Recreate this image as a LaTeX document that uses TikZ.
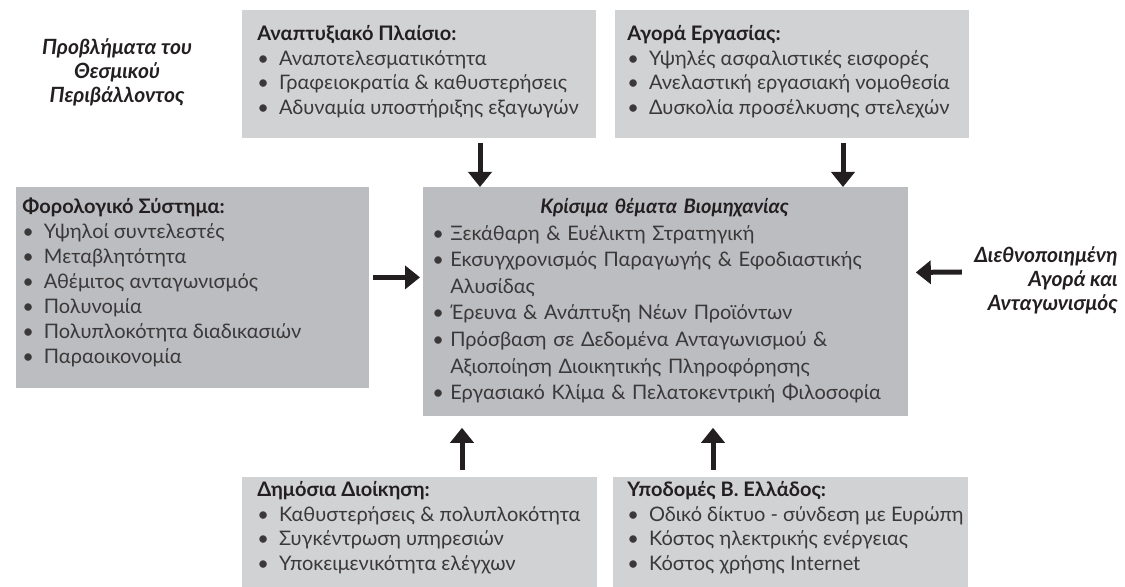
\documentclass[tikz,border=0pt]{standalone}
\usepackage{fontspec}
\setmainfont{Lato}
\usetikzlibrary{arrows.meta,calc}

\definecolor{boxlight}{HTML}{D1D2D4}
\definecolor{boxdark}{HTML}{BCBDC0}
\definecolor{ink}{HTML}{231F20}
\definecolor{bodyink}{HTML}{3A3839}

\newcommand{\blt}{\textbullet\hspace{5pt}}
\newcommand{\cblt}{\noindent\hangindent=9pt\hangafter=1\makebox[9pt][l]{\textbullet}}

\tikzset{
  factor/.style={fill=boxlight, anchor=north west, inner sep=0},
  core/.style={fill=boxdark, anchor=north west, inner sep=0},
  listtext/.style={anchor=north west, inner sep=0, align=left, text=bodyink,
    font=\fontsize{10}{12.3}\selectfont},
  sidetext/.style={inner sep=0, text=ink,
    font=\fontsize{10.5}{12}\selectfont\bfseries\itshape},
  bigarrow/.style={line width=2.5pt, draw=ink, -{Triangle[width=11.5pt,length=7.5pt]}},
}

\begin{document}
\begin{tikzpicture}[x=0.5pt, y=-0.5pt]
  \useasboundingbox (0,0) rectangle (1125,587);

  % boxes
  \node[factor, minimum width=177pt, minimum height=64pt] (dev) at (242,10) {};
  \node[factor, minimum width=177pt, minimum height=64pt] (lab) at (615,10) {};
  \node[core, minimum width=176.5pt, minimum height=100.5pt] (tax) at (16,187) {};
  \node[core, minimum width=242.5pt, minimum height=114.5pt] (crit) at (423,187) {};
  \node[factor, minimum width=177.5pt, minimum height=55pt] (pub) at (242,477) {};
  \node[factor, minimum width=177.5pt, minimum height=55pt] (infra) at (613,477) {};

  % box texts
  \node[listtext] (devtext) at ($(dev.north west)+(15,15)$) {%
    {\color{ink}\bfseries Αναπτυξιακό Πλαίσιο:}\\
    \blt Αναποτελεσματικότητα\\
    \blt Γραφειοκρατία \& καθυστερήσεις\\
    \blt Αδυναμία υποστήριξης εξαγωγών};
  \node[listtext] (labtext) at ($(lab.north west)+(12,15)$) {%
    {\color{ink}\bfseries Αγορά Εργασίας:}\\
    \blt Υψηλές ασφαλιστικές εισφορές\\
    \blt Ανελαστική εργασιακή νομοθεσία\\
    \blt Δυσκολία προσέλκυσης στελεχών};
  \node[listtext, font=\fontsize{10}{12.5}\selectfont] (taxtext) at ($(tax.north west)+(6,11)$) {%
    {\color{ink}\bfseries Φορολογικό Σύστημα:}\\
    \blt Υψηλοί συντελεστές\\
    \blt Μεταβλητότητα\\
    \blt Αθέμιτος ανταγωνισμός\\
    \blt Πολυνομία\\
    \blt Πολυπλοκότητα διαδικασιών\\
    \blt Παραοικονομία};
  \node[listtext, font=\fontsize{10}{13.3}\selectfont, text width=232pt] (crittext)
    at ($(crit.north west)+(9,11)$) {%
    {\centering\color{ink}\bfseries\itshape Κρίσιμα θέματα Βιομηχανίας\par}
    \cblt Ξεκάθαρη \& Ευέλικτη Στρατηγική\par
    \cblt Εκσυγχρονισμός Παραγωγής \& Εφοδιαστικής\newline Αλυσίδας\par
    \cblt Έρευνα \& Ανάπτυξη Νέων Προϊόντων\par
    \cblt Πρόσβαση σε Δεδομένα Ανταγωνισμού \&\newline Αξιοποίηση Διοικητικής Πληροφόρησης\par
    \cblt Εργασιακό Κλίμα \& Πελατοκεντρική Φιλοσοφία};
  \node[listtext] (pubtext) at ($(pub.north west)+(15,4)$) {%
    {\color{ink}\bfseries Δημόσια Διοίκηση:}\\
    \blt Καθυστερήσεις \& πολυπλοκότητα\\
    \blt Συγκέντρωση υπηρεσιών\\
    \blt Υποκειμενικότητα ελέγχων};
  \node[listtext] (infratext) at ($(infra.north west)+(14,4)$) {%
    {\color{ink}\bfseries Υποδομές Β. Ελλάδος:}\\
    \blt Οδικό δίκτυο - σύνδεση με Ευρώπη\\
    \blt Κόστος ηλεκτρικής ενέργειας\\
    \blt Κόστος χρήσης Internet};

  % side labels
  \node[sidetext, align=center] (inst) at (117,72)
    {Προβλήματα του\\Θεσμικού\\Περιβάλλοντος};
  \node[sidetext, align=right, anchor=east] (intl) at (1118,280)
    {Διεθνοποιημένη\\Αγορά και\\Ανταγωνισμός};

  % arrows
  \draw[bigarrow] ($(dev.south west)+(238,4)$) -- ($(crit.north west)+(57,0)$);
  \draw[bigarrow] ($(lab.south west)+(228,4)$) -- ($(crit.north west)+(420,0)$);
  \draw[bigarrow] ($(tax.east)+(3,-10.5)$) -- ($(crit.west)+(-3,-24.5)$);
  \draw[bigarrow] ($(intl.west)+(-12,-8)$) -- ($(crit.east)+(7,-29.5)$);
  \draw[bigarrow] ($(pub.north west)+(220,-7)$) -- ($(crit.south west)+(39,11)$);
  \draw[bigarrow] ($(infra.north west)+(100,-7)$) -- ($(crit.south west)+(290,11)$);
\end{tikzpicture}
\end{document}
